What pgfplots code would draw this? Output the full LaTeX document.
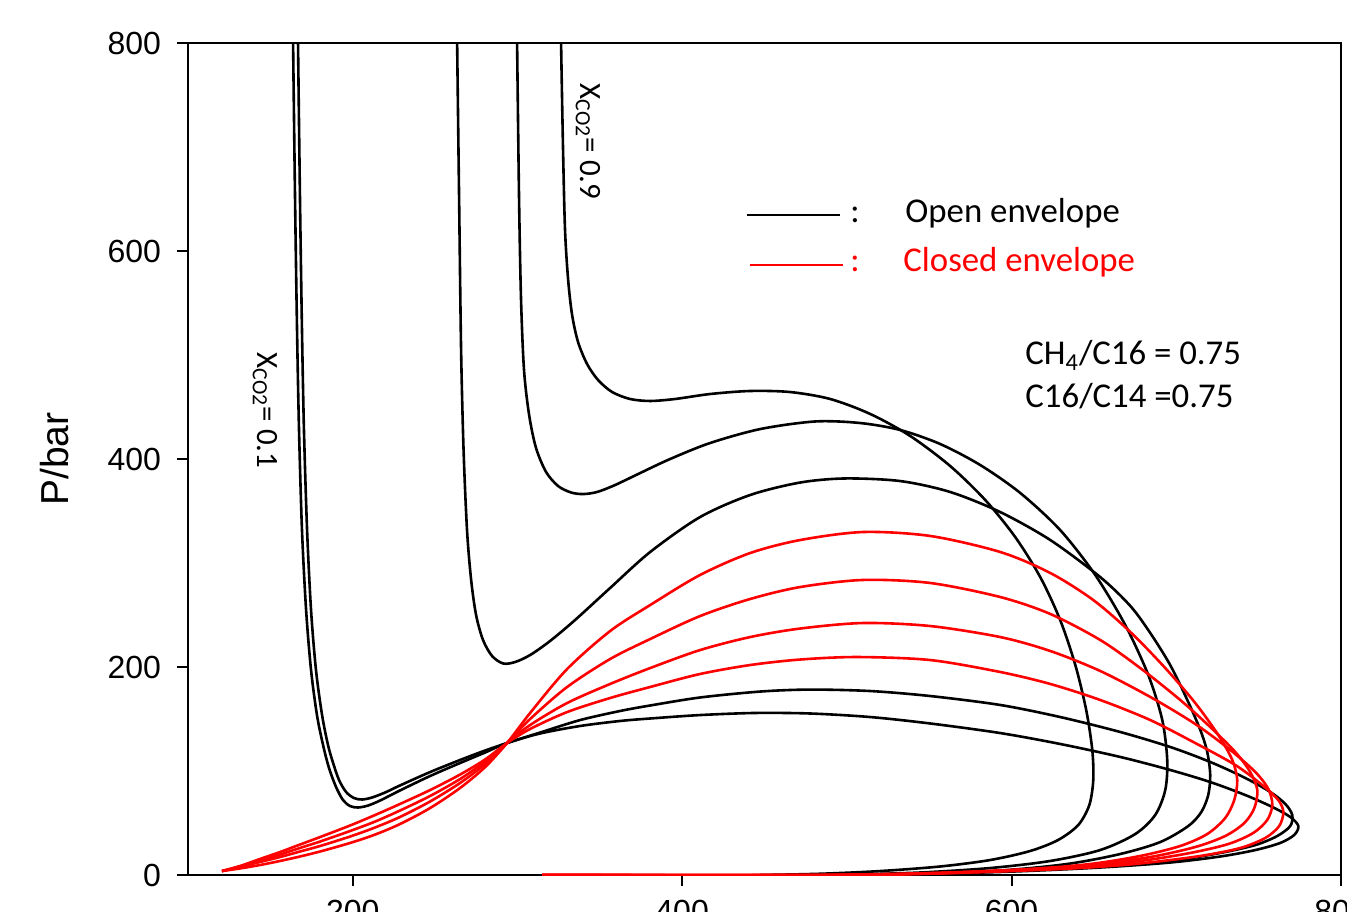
\documentclass[border=0pt]{standalone}
\usepackage{pgfplots}
\pgfplotsset{compat=1.18}
\usepackage{fontspec}
\setmainfont{Carlito}
\newfontfamily\arialfont{Liberation Sans}

\begin{document}
\begin{tikzpicture}
\begin{axis}[
  width=576.5pt, height=416pt, scale only axis,
  xmin=100, xmax=800, ymin=0, ymax=800,
  xtick={200,400,600,800}, ytick={0,200,400,600,800},
  tick pos=left, tick align=outside, major tick length=5.5pt,
  every tick/.style={black, line width=1pt},
  axis line style={line width=1.2pt},
  ticklabel style={font=\arialfont\fontsize{16}{16}\selectfont},
  /pgf/number format/assume math mode=true,
  yticklabel style={xshift=-4.5pt},
  xticklabel style={yshift=-3.7pt},
  every axis plot/.append style={line width=1.3pt, smooth},
]
% x_CO2 = 0.1 (open)
\addplot[black] coordinates {
(163.8,812.5)(163.8,800)(165.0,649.0)(166.2,524.0)(167.4,427.9)(169.2,331.7)(171.7,254.8)(174.7,197.1)(178.3,153.8)(182.0,125.0)(185.6,102.9)(189.9,84.6)(194.1,72.1)(198.4,66.3)(203.2,64.9)(209.3,66.8)(216.6,71.6)(228.7,81.3)(247.0,95.2)(265.2,107.7)(280.4,117.8)(293.7,126.9)(313.8,136.1)(338.1,143.3)(362.3,148.1)(380.6,150.5)(410.9,153.8)(444.3,155.8)(477.7,155.3)(514.2,151.9)(550.6,145.7)(593.1,136.5)(629.5,126.0)(666.0,113.5)(696.3,101.0)(720.6,89.4)(741.9,76.9)(758.3,65.4)(769.2,55.8)(774.1,47.1)(771.6,38.5)(763.1,30.8)(748.0,24.0)(726.7,17.8)(696.3,12.0)(653.8,7.2)(605.3,3.6)(556.7,1.3)(514.2,0.4)(471.7,0)};
% x_CO2 = 0.2 (open)
\addplot[black] coordinates {
(166.8,812.5)(166.8,800)(168.0,649.0)(169.2,524.0)(170.4,427.9)(172.3,331.7)(174.7,254.8)(177.7,197.1)(181.4,153.8)(185.0,125.0)(188.1,107.7)(191.7,91.3)(196.0,79.8)(200.8,74.0)(205.7,72.6)(211.7,74.5)(219.6,79.3)(228.7,86.1)(247.0,99.0)(265.2,110.6)(280.4,119.7)(293.7,126.9)(313.8,137.0)(338.1,149.0)(362.3,157.7)(380.6,163.0)(410.9,170.7)(447.4,176.4)(477.7,178.3)(514.2,176.9)(550.6,172.1)(593.1,163.5)(629.5,151.9)(666.0,137.5)(696.3,123.1)(720.6,108.7)(741.9,93.3)(757.1,79.8)(766.2,68.3)(770.4,57.7)(769.2,47.1)(761.3,37.5)(748.0,28.8)(726.7,21.2)(696.3,13.5)(653.8,8.2)(605.3,4.3)(556.7,1.6)(514.2,0.5)(471.7,0)};
% x_CO2 = 0.7 (open)
\addplot[black] coordinates {
(263.4,812.5)(263.4,800)(264.6,649.0)(265.8,504.8)(267.3,408.7)(269.4,331.7)(271.9,283.7)(274.9,250.0)(279.1,226.0)(284.6,210.6)(291.3,203.4)(298.6,204.8)(307.7,211.5)(319.8,225.0)(335.0,245.2)(356.3,276.0)(380.6,310.6)(410.9,344.2)(441.3,365.4)(471.7,377.4)(499.0,381.3)(532.4,378.8)(562.7,368.3)(593.1,349.0)(623.5,322.1)(653.8,286.5)(672.1,258.7)(684.2,232.7)(696.3,201.9)(706.7,168.3)(714.6,139.4)(718.8,118.3)(720.6,96.2)(719.4,76.9)(715.2,60.6)(707.3,47.1)(690.3,31.7)(666.0,20.2)(633.8,10.6)(593.1,4.3)(544.5,1.2)(489.9,0)};
% x_CO2 = 0.8 (open)
\addplot[black] coordinates {
(299.8,812.5)(299.8,800)(301.0,649.0)(302.2,552.9)(304.0,485.6)(307.1,442.3)(311.3,410.6)(317.4,387.5)(324.7,374.0)(332.6,367.8)(339.9,366.3)(348.4,368.3)(359.3,375.0)(374.5,386.5)(392.7,400.0)(417.0,415.4)(447.4,428.8)(480.8,436.1)(508.1,434.6)(532.4,427.9)(556.7,414.4)(581.0,394.2)(605.3,367.3)(629.5,331.7)(650.8,288.5)(669.0,240.4)(683.0,192.3)(691.5,149.0)(694.5,110.6)(693.3,81.7)(687.2,57.7)(675.1,39.4)(653.8,24.0)(623.5,13.5)(587.0,6.7)(544.5,2.4)(502.0,0.5)(471.7,0)};
% x_CO2 = 0.9 (open)
\addplot[black] coordinates {
(326.5,812.5)(326.5,800)(327.7,697.1)(328.9,620.2)(330.8,572.1)(333.2,538.5)(336.8,512.5)(342.3,491.3)(349.0,475.9)(357.5,464.4)(368.4,457.7)(380.6,455.8)(395.7,457.7)(417.0,462.5)(441.3,465.4)(465.6,464.4)(489.9,457.7)(514.2,443.3)(538.5,422.1)(562.7,393.3)(584.0,360.6)(602.2,325.0)(617.4,286.5)(629.5,245.2)(638.7,201.9)(645.3,158.7)(649.0,120.2)(649.6,91.3)(647.2,67.3)(640.5,48.1)(628.3,33.7)(611.3,23.1)(587.0,14.4)(556.7,8.2)(520.2,3.8)(483.8,1.2)(447.4,0)};
% x_CO2 = 0.3 (closed)
\addplot[red] coordinates {
(120.6,3.8)(131.6,8.7)(143.7,15.4)(155.9,22.1)(168.0,29.3)(180.2,36.5)(198.4,47.6)(213.6,57.7)(228.7,68.3)(247.0,81.7)(265.2,96.6)(280.4,111.1)(293.7,126.9)(307.7,140.4)(330.2,156.7)(356.3,170.2)(380.6,180.8)(410.9,193.3)(441.3,201.9)(471.7,207.2)(506.3,209.6)(550.6,206.7)(593.1,195.2)(623.5,183.7)(653.8,168.3)(684.2,149.0)(711.5,126.9)(735.8,105.8)(752.2,86.5)(761.9,72.1)(765.0,60.6)(762.5,47.1)(754.0,35.6)(738.9,26.0)(714.6,18.3)(678.1,11.1)(641.7,6.7)(593.1,3.4)(544.5,1.0)(502.0,0)(315.0,0)};
% x_CO2 = 0.4 (closed)
\addplot[red] coordinates {
(120.6,3.8)(131.6,8.1)(143.7,13.9)(155.9,19.7)(168.0,26.0)(180.2,32.2)(198.4,42.3)(213.6,51.4)(228.7,62.0)(247.0,76.0)(265.2,92.3)(280.4,109.1)(293.7,126.9)(307.7,144.2)(330.2,165.4)(356.3,183.7)(380.6,199.0)(410.9,216.3)(441.3,228.8)(471.7,237.0)(509.9,242.3)(550.6,239.4)(593.1,228.8)(623.5,215.4)(653.8,196.2)(684.2,171.2)(711.5,145.2)(732.8,120.2)(748.0,99.0)(755.9,82.7)(758.3,67.3)(755.2,52.9)(746.7,40.4)(731.6,29.8)(708.5,21.2)(678.1,13.5)(641.7,8.2)(593.1,4.3)(544.5,1.4)(502.0,0)(315.0,0)};
% x_CO2 = 0.5 (closed)
\addplot[red] coordinates {
(120.6,3.8)(131.6,7.7)(143.7,12.5)(155.9,17.3)(168.0,22.6)(180.2,27.9)(198.4,37.0)(213.6,45.7)(228.7,55.8)(247.0,70.7)(265.2,88.5)(280.4,106.7)(293.7,126.9)(307.7,150.0)(330.2,180.8)(356.3,207.7)(380.6,226.9)(410.9,249.0)(441.3,265.4)(471.7,276.9)(509.9,283.7)(550.6,280.8)(593.1,267.3)(623.5,251.0)(653.8,226.0)(678.1,199.0)(702.4,168.3)(720.6,142.3)(735.8,118.3)(744.9,99.0)(749.2,81.7)(747.4,64.4)(741.3,50.0)(729.7,37.5)(711.5,26.9)(684.2,17.3)(647.8,9.6)(611.3,5.3)(562.7,1.9)(514.2,0.5)(471.7,0)(315.0,0)};
% x_CO2 = 0.6 (closed)
\addplot[red] coordinates {
(120.6,3.8)(131.6,6.3)(143.7,9.6)(155.9,13.5)(168.0,17.8)(180.2,22.6)(198.4,30.8)(213.6,38.9)(228.7,49.0)(247.0,64.4)(265.2,83.7)(280.4,103.8)(293.7,126.9)(307.7,155.8)(330.2,198.1)(356.3,234.6)(380.6,259.6)(410.9,288.5)(441.3,309.6)(471.7,322.1)(509.9,329.8)(550.6,326.0)(593.1,310.6)(623.5,290.4)(649.6,264.4)(672.1,233.7)(693.3,199.0)(711.5,165.4)(725.5,134.6)(734.0,110.6)(737.0,91.3)(735.2,72.1)(729.7,54.8)(718.8,39.4)(702.4,27.9)(678.1,18.3)(647.8,10.6)(611.3,5.8)(562.7,2.4)(514.2,0.7)(471.7,0)(315.0,0)};
\end{axis}
% annotations (axis south west at origin)
\node[rotate=-90, inner sep=0pt, font=\fontsize{15.5}{16}\selectfont] at (38.5pt,232.25pt) {X\textsubscript{CO2}= 0.1};
\node[rotate=-90, inner sep=0pt, font=\fontsize{15.5}{16}\selectfont] at (200pt,366.75pt) {X\textsubscript{CO2}= 0.9};
\draw[black, line width=0.75pt] (279.5pt,330pt) -- (326pt,330pt);
\node[anchor=base west, inner sep=0pt, font=\fontsize{17.4}{17}\selectfont] at (331pt,326.2pt) {:};
\node[anchor=base west, inner sep=0pt, font=\fontsize{17.4}{17}\selectfont] at (358.5pt,326.2pt) {Open envelope};
\draw[red, line width=0.75pt] (281pt,305pt) -- (327.5pt,305pt);
\node[anchor=base west, inner sep=0pt, text=red, font=\fontsize{17.4}{17}\selectfont] at (331pt,301.5pt) {:};
\node[anchor=base west, inner sep=0pt, text=red, font=\fontsize{17.4}{17}\selectfont] at (357.5pt,301.5pt) {Closed envelope};
\node[anchor=base west, inner sep=0pt, font=\fontsize{17.4}{17}\selectfont] at (418.5pt,255pt) {CH\textsubscript{4}/C16 = 0.75};
\node[anchor=base west, inner sep=0pt, font=\fontsize{17.4}{17}\selectfont] at (418.5pt,234pt) {C16/C14 =0.75};
\node[rotate=90, font=\arialfont\fontsize{19.5}{20}\selectfont] at (-66.5pt,208pt) {P/bar};
\pgfresetboundingbox
\useasboundingbox (-94pt,-18pt) rectangle (579.5pt,437.5pt);
\end{tikzpicture}
\end{document}
